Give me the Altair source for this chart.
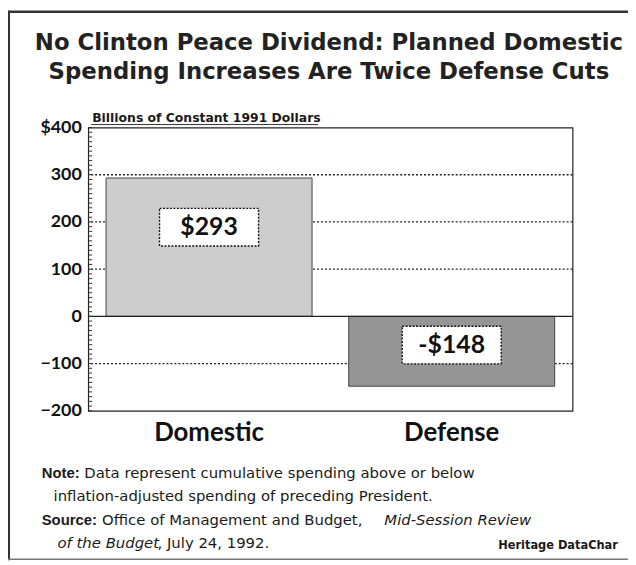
import altair as alt
import pandas as pd

# ---- data ----
categories = ["Domestic", "Defense"]
values = [293, -148]
value_labels = ["$293", "-$148"]
bar_colors = ["#cdcdcd", "#959595"]
grid_values = [300, 200, 100, -100]
axis_values = [-200, -100, 0, 100, 200, 300, 400]
minor_tick_values = [-190, -180, -170, -160, -150, -140, -130, -120, -110,
                     -90, -80, -70, -60, -50, -40, -30, -20, -10,
                     10, 20, 30, 40, 50, 60, 70, 80, 90,
                     110, 120, 130, 140, 150, 160, 170, 180, 190,
                     210, 220, 230, 240, 250, 260, 270, 280, 290,
                     310, 320, 330, 340, 350, 360, 370, 380, 390]
title_line1 = "No Clinton Peace Dividend: Planned Domestic"
title_line2 = "Spending Increases Are Twice Defense Cuts"
unit_label = "Billions of Constant 1991 Dollars"
note_head = "Note:"
note_line1 = "Data represent cumulative spending above or below"
note_line2 = "inflation-adjusted spending of preceding President."
source_head = "Source:"
source_line1 = "Office of Management and Budget,"
source_italic1 = "Mid-Session Review"
source_italic2 = "of the Budget"
source_line2 = ", July 24, 1992."
credit = "Heritage DataChar"

df = pd.DataFrame({"category": categories, "value": values,
                   "label": value_labels, "color": bar_colors})

W, H = 489, 286
BOLD = "Lato"
SANS = "DejaVu Sans"

yscale = alt.Scale(domain=[-200, 400], nice=False, zero=False)
yaxis = alt.Axis(values=axis_values, title=None, grid=False, ticks=False, domain=False,
                 labelFont=BOLD, labelFontWeight="bold", labelFontSize=18,
                 labelColor="#111", labelPadding=7,
                 labelExpr="datum.value == 400 ? '$400' : datum.label")
xenc = alt.X("category:N", sort=categories,
             scale=alt.Scale(paddingInner=0.151, paddingOuter=0.0735),
             axis=alt.Axis(title=None, labelAngle=0, ticks=False, domain=False,
                           labelFont=BOLD, labelFontWeight="bold", labelFontSize=26,
                           labelColor="#111", labelPadding=9))


def yenc(field):
    return alt.Y(field, scale=yscale, axis=yaxis)


grid = alt.Chart(pd.DataFrame({"v": grid_values})).mark_rule(
    strokeDash=[2, 2], color="#222", strokeWidth=1.3
).encode(y=yenc("v:Q"))

bars = alt.Chart(df).mark_bar(stroke="#444", strokeWidth=1).encode(
    x=xenc, y=yenc("value:Q"), color=alt.Color("color:N", scale=None)
)

zero = alt.Chart(pd.DataFrame({"v": [0]})).mark_rule(
    color="#222", strokeWidth=1.3
).encode(y=yenc("v:Q"))

minor = alt.Chart(pd.DataFrame({"v": minor_tick_values + axis_values})).mark_rule(
    color="#333", strokeWidth=1
).encode(y=yenc("v:Q"), x=alt.value(0), x2=alt.value(4))

labeled = alt.Chart(df).transform_calculate(
    pos="datum.value > 0 ? datum.value * 0.645 : datum.value * 0.41"
)

boxes = labeled.mark_point(
    shape="M-1,-0.38H1V0.38H-1Z", size=10000, filled=True, fill="white",
    stroke="#111", strokeWidth=1.4, strokeDash=[2, 1.5], opacity=1
).encode(x=xenc, y=yenc("pos:Q"))

texts = labeled.mark_text(
    font=BOLD, fontWeight="bold", fontSize=25, color="#111", baseline="middle"
).encode(x=xenc, y=yenc("pos:Q"), text="label:N")


def annot(text, x, y, size=15, weight="normal", style="normal", font=SANS,
          color="#1a1a1a", align="left"):
    return alt.Chart(pd.DataFrame({"t": [text]})).mark_text(
        font=font, fontSize=size, fontWeight=weight, fontStyle=style,
        color=color, align=align, baseline="middle"
    ).encode(text="t:N", x=alt.value(x), y=alt.value(y))


title1 = annot(title_line1, 243, -85, size=23, weight="bold", font=SANS,
               align="center", color="#222")
title2 = annot(title_line2, 243, -56, size=23, weight="bold", font=SANS,
               align="center", color="#222")

unit = annot(unit_label, 4, -10, size=12.5, weight="bold", font=SANS)
underline = alt.Chart(pd.DataFrame({"v": [0]})).mark_rule(
    color="#333", strokeWidth=1
).encode(x=alt.value(3), x2=alt.value(232), y=alt.value(-3))

HEAD = "Liberation Sans"
notes = [
    annot(note_head, -47, 349, weight="bold", font=HEAD),
    annot(note_line1, -4, 349),
    annot(note_line2, -35, 372),
    annot(source_head, -47, 396, weight="bold", font=HEAD),
    annot(source_line1, 14, 396),
    annot(source_italic1, 299, 396, style="italic"),
    annot(source_italic2, -31, 420, style="italic"),
    annot(source_line2, 70, 420),
    annot(credit, 414, 423, size=11.5, weight="bold", font=SANS),
]

frame_left = alt.Chart(pd.DataFrame({"v": [0]})).mark_rule(
    color="#333", strokeWidth=2
).encode(x=alt.value(-80), y=alt.value(-118), y2=alt.value(437))
frame_top = alt.Chart(pd.DataFrame({"v": [0]})).mark_rule(
    color="#333", strokeWidth=2.5
).encode(x=alt.value(-81), x2=alt.value(545), y=alt.value(-117))
frame_bottom = alt.Chart(pd.DataFrame({"v": [0]})).mark_rule(
    color="#777", strokeWidth=1.5
).encode(x=alt.value(-81), x2=alt.value(545), y=alt.value(436))

chart = alt.layer(
    grid, bars, zero, minor, boxes, texts, title1, title2, unit, underline,
    *notes, frame_left, frame_top, frame_bottom
).properties(
    width=W, height=H,
    autosize=alt.AutoSizeParams(type="none"),
    padding={"left": 81, "top": 118, "right": 56, "bottom": 151},
    background="white",
).configure_view(stroke="#222", strokeWidth=1.2)

chart.save("out.html", embed_options={"renderer": "svg", "actions": False})
